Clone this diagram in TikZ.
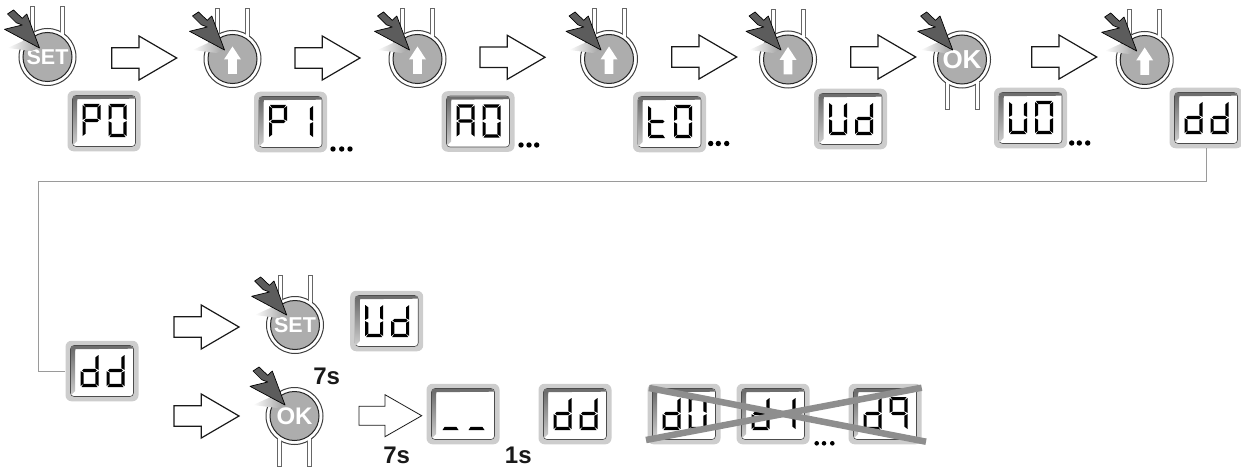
\documentclass[tikz,border=0pt]{standalone}
\usepackage{fontspec}
\setmainfont{Liberation Sans}
\definecolor{lcdrim}{HTML}{CDCDCD}
\definecolor{lcdband}{HTML}{6E6E6E}
\definecolor{discgray}{HTML}{ADADAD}
\definecolor{ptrgray}{HTML}{5C5C5C}
\definecolor{wire}{HTML}{9A9A9A}
\definecolor{crossgray}{HTML}{8E8E8E}
\tikzset{
  lcd/.style={fill=lcdrim,rounded corners=6pt,minimum width=73pt,minimum height=60.5pt,inner sep=0pt,draw=none},
  disc/.style={circle,fill=discgray,draw=black!85,line width=1pt,minimum size=49pt,inner sep=0pt,text=white},
  hollow/.style={draw=black!90,line width=1.2pt,fill=white,line join=miter},
  ringline/.style={draw=black!75,line width=1pt},
  leadline/.style={draw=black!60,line width=1pt},
  secs/.style={font=\bfseries\fontsize{24}{24}\selectfont,text=black!90,inner sep=0pt},
  dots/.style={fill=black,circle,inner sep=0pt,minimum size=5.4pt},
  xline/.style={crossgray,line width=6.5pt},
}
\newcommand{\sega}{\fill (1,0)--(17,0)--(14.8,3.2)--(3.2,3.2)--cycle;}
\newcommand{\segb}{\fill (18,1)--(18,15.8)--(14.8,14.2)--(14.8,3.4)--cycle;}
\newcommand{\segc}{\fill (18,17.2)--(18,32)--(14.8,29.6)--(14.8,18.8)--cycle;}
\newcommand{\segd}{\fill (1,33)--(17,33)--(14.8,29.8)--(3.2,29.8)--cycle;}
\newcommand{\sege}{\fill (0,17.2)--(0,32)--(3.2,29.6)--(3.2,18.8)--cycle;}
\newcommand{\segf}{\fill (0,1)--(0,15.8)--(3.2,14.2)--(3.2,3.4)--cycle;}
\newcommand{\segg}{\fill (1.5,16.5)--(3.2,14.9)--(14.8,14.9)--(16.5,16.5)--(14.8,18.1)--(3.2,18.1)--cycle;}
\newcommand{\digitat}[2]{\foreach \s in {#2}{\begin{scope}[xshift=#1pt,yshift=17pt]\csname seg\s\endcsname\end{scope}}}
% \lcdbox{name}{x}{y}{segments 1}{segments 2}
\newcommand{\lcdbox}[5]{%
  \node[lcd] (#1) at (#2,#3) {};
  \begin{scope}[shift={(#2,#3)}]
    \draw[black!70,line width=.6pt,fill=white,rounded corners=3.5pt] (-31.5,-25.5) rectangle (31.5,25.5);
    \fill[lcdband] (-31,-25) [rounded corners=2.5pt] -- (31,-25) [sharp corners] -- (31,-22.3) -- (-26.5,-21.8) -- (-27,-20) -- (-31,-20) -- cycle;
    \shade[top color=lcdband,bottom color=black!20] (-31,-22) -- (-26.8,-21.8) -- (-26.8,20) -- (-31,24) -- cycle;
    \digitat{-21.5}{#4}
    \digitat{4.5}{#5}
  \end{scope}}
% \btnbase{name}{x}{y}{lead direction, 1 up, -1 down}{text}{font size}
\newcommand{\btnbase}[6]{%
  \begin{scope}[shift={(#2,#3)}]
    \draw[ringline,fill=white] (0,0) circle (28.5);
    \begin{scope}[yscale=#4]
      \fill[white] (-16.5,-18) rectangle (-13.5,-50);
      \fill[white] (13.5,-18) rectangle (16.5,-50);
      \draw[leadline] (-17,-23.3) -- (-17,-50) -- (-13,-50) -- (-13,-25.4);
      \draw[leadline] (13,-25.4) -- (13,-50) -- (17,-50) -- (17,-23.3);
    \end{scope}
  \end{scope}
  \node[disc,font=\bfseries\fontsize{#6}{#6}\selectfont] (#1) at (#2,#3) {#5};}
\newcommand{\uparrowmark}[2]{%
  \fill[white,shift={(#1,#2)}] (0,-12.5) -- (8.5,0.5) -- (4.3,0.5) -- (4.3,15) -- (-4.3,15) -- (-4.3,0.5) -- (-8.5,0.5) -- cycle;}
\newcommand{\pressmark}[2]{%
  \begin{scope}[shift={(#1,#2)}]
    \shade[left color=white,right color=black!38] (-32,0) -- (-12,-9) -- (0,0) -- (-8,3) -- cycle;
    \draw[black,line width=.7pt,fill=ptrgray,line join=round]
      (0,0) -- (-12.7,-34) -- (-17.3,-29.7) -- (-26,-38) -- (-32,-34) -- (-23.3,-25.3) -- (-17.3,-23) -- (-35,-18.7) -- cycle;
  \end{scope}}
\newcommand{\bigarrow}[2]{%
  \draw[hollow,shift={(#1,#2)}] (0,-10.3) -- (27.3,-10.3) -- (27.3,-22) -- (65,0) -- (27.3,22) -- (27.3,10.3) -- (0,10.3) -- cycle;}
\begin{document}
\begin{tikzpicture}[x=1pt,y=-1pt]
\useasboundingbox (0,0) rectangle (1241,468);
% big arrows
\bigarrow{111.7}{58}
\bigarrow{295}{58}
\bigarrow{480}{57.3}
\bigarrow{671.7}{57}
\bigarrow{850.7}{57}
\bigarrow{1031.7}{57}
\bigarrow{174}{327}
\bigarrow{174}{416}
\draw[hollow,line width=.8pt,shift={(359,415.7)}] (0,-9.5) -- (26,-9.5) -- (26,-21) -- (62.7,0) -- (26,21) -- (26,9.5) -- (0,9.5) -- cycle;
% buttons
\btnbase{bset}{47.5}{57}{1}{SET}{21.5}\pressmark{39.5}{48}
\btnbase{bupa}{232.5}{59}{1}{}{20}\uparrowmark{232.5}{59}\pressmark{224.5}{50}
\btnbase{bupb}{417.5}{59}{1}{}{20}\uparrowmark{417.5}{59}\pressmark{409.5}{50}
\btnbase{bupc}{609}{59}{1}{}{20}\uparrowmark{609}{59}\pressmark{601}{50}
\btnbase{bupd}{788}{59.5}{1}{}{20}\uparrowmark{788}{59.5}\pressmark{781}{50}
\btnbase{bok}{962}{59.5}{-1}{OK}{26}\pressmark{952.7}{50}
\btnbase{bupe}{1144.7}{60}{1}{}{20}\uparrowmark{1144.7}{60}\pressmark{1136.7}{51}
\btnbase{bsetb}{295}{325}{1}{SET}{21.5}\pressmark{286.7}{315}
\btnbase{bokb}{294.5}{416}{-1}{OK}{24}\pressmark{285}{405}
% displays
\lcdbox{pzero}{104}{121}{a,b,e,f,g}{a,b,c,d,e,f}
\lcdbox{pone}{290.5}{122}{a,b,e,f,g}{b,c}
\lcdbox{azero}{478}{121.5}{a,b,c,e,f,g}{a,b,c,d,e,f}
\lcdbox{tzero}{669.5}{122}{d,e,f,g}{a,b,c,d,e,f}
\lcdbox{ud}{850.5}{119}{b,c,d,e,f}{b,c,d,e,g}
\lcdbox{uzero}{1030.5}{118}{b,c,d,e,f}{a,b,c,d,e,f}
\lcdbox{ddtop}{1206}{118}{b,c,d,e,g}{b,c,d,e,g}
\lcdbox{ddlow}{102}{371}{b,c,d,e,g}{b,c,d,e,g}
\lcdbox{udlow}{386.7}{321}{b,c,d,e,f}{b,c,d,e,g}
\lcdbox{dash}{463}{414}{d}{d}
\lcdbox{ddend}{575}{414}{b,c,d,e,g}{b,c,d,e,g}
\lcdbox{dzero}{684}{414}{b,c,d,e,g}{a,b,c,d,e,f}
\lcdbox{done}{773}{414}{b,c,d,e,g}{b,c}
\lcdbox{dnine}{885}{414}{b,c,d,e,g}{a,b,c,f,g}
% connector
\coordinate (corna) at (38.3,181.7);
\draw[wire,line width=1pt] (ddtop.south) |- (corna) |- (ddlow.west);
% cross
\coordinate (xa) at (649,388);
\coordinate (xb) at (926,441.7);
\coordinate (xc) at (646,440);
\coordinate (xd) at (921.7,387.7);
\draw[xline] (xa) -- (xb);
\draw[xline] (xc) -- (xd);
% dots
\foreach \i/\x/\y in {a/333/149,b/341.7/149,c/350/149,d/521/145,e/529/145,f/536.7/145,g/710.7/143.5,h/718.3/143.5,i/726.7/143.5,j/1071.7/143,k/1079.3/143,l/1087.7/143}
  \node[dots] (dot\i) at (\x,\y) {};
\foreach \i/\x in {a/816.7,b/824,c/832.3}
  \node[dots,minimum size=4.6pt] (dotx\i) at (\x,443.3) {};
% times
\node[secs] (ta) at (326.7,376.7) {7s};
\node[secs] (tb) at (396.7,455.5) {7s};
\node[secs] (tc) at (518.3,455.5) {1s};
\end{tikzpicture}
\end{document}
